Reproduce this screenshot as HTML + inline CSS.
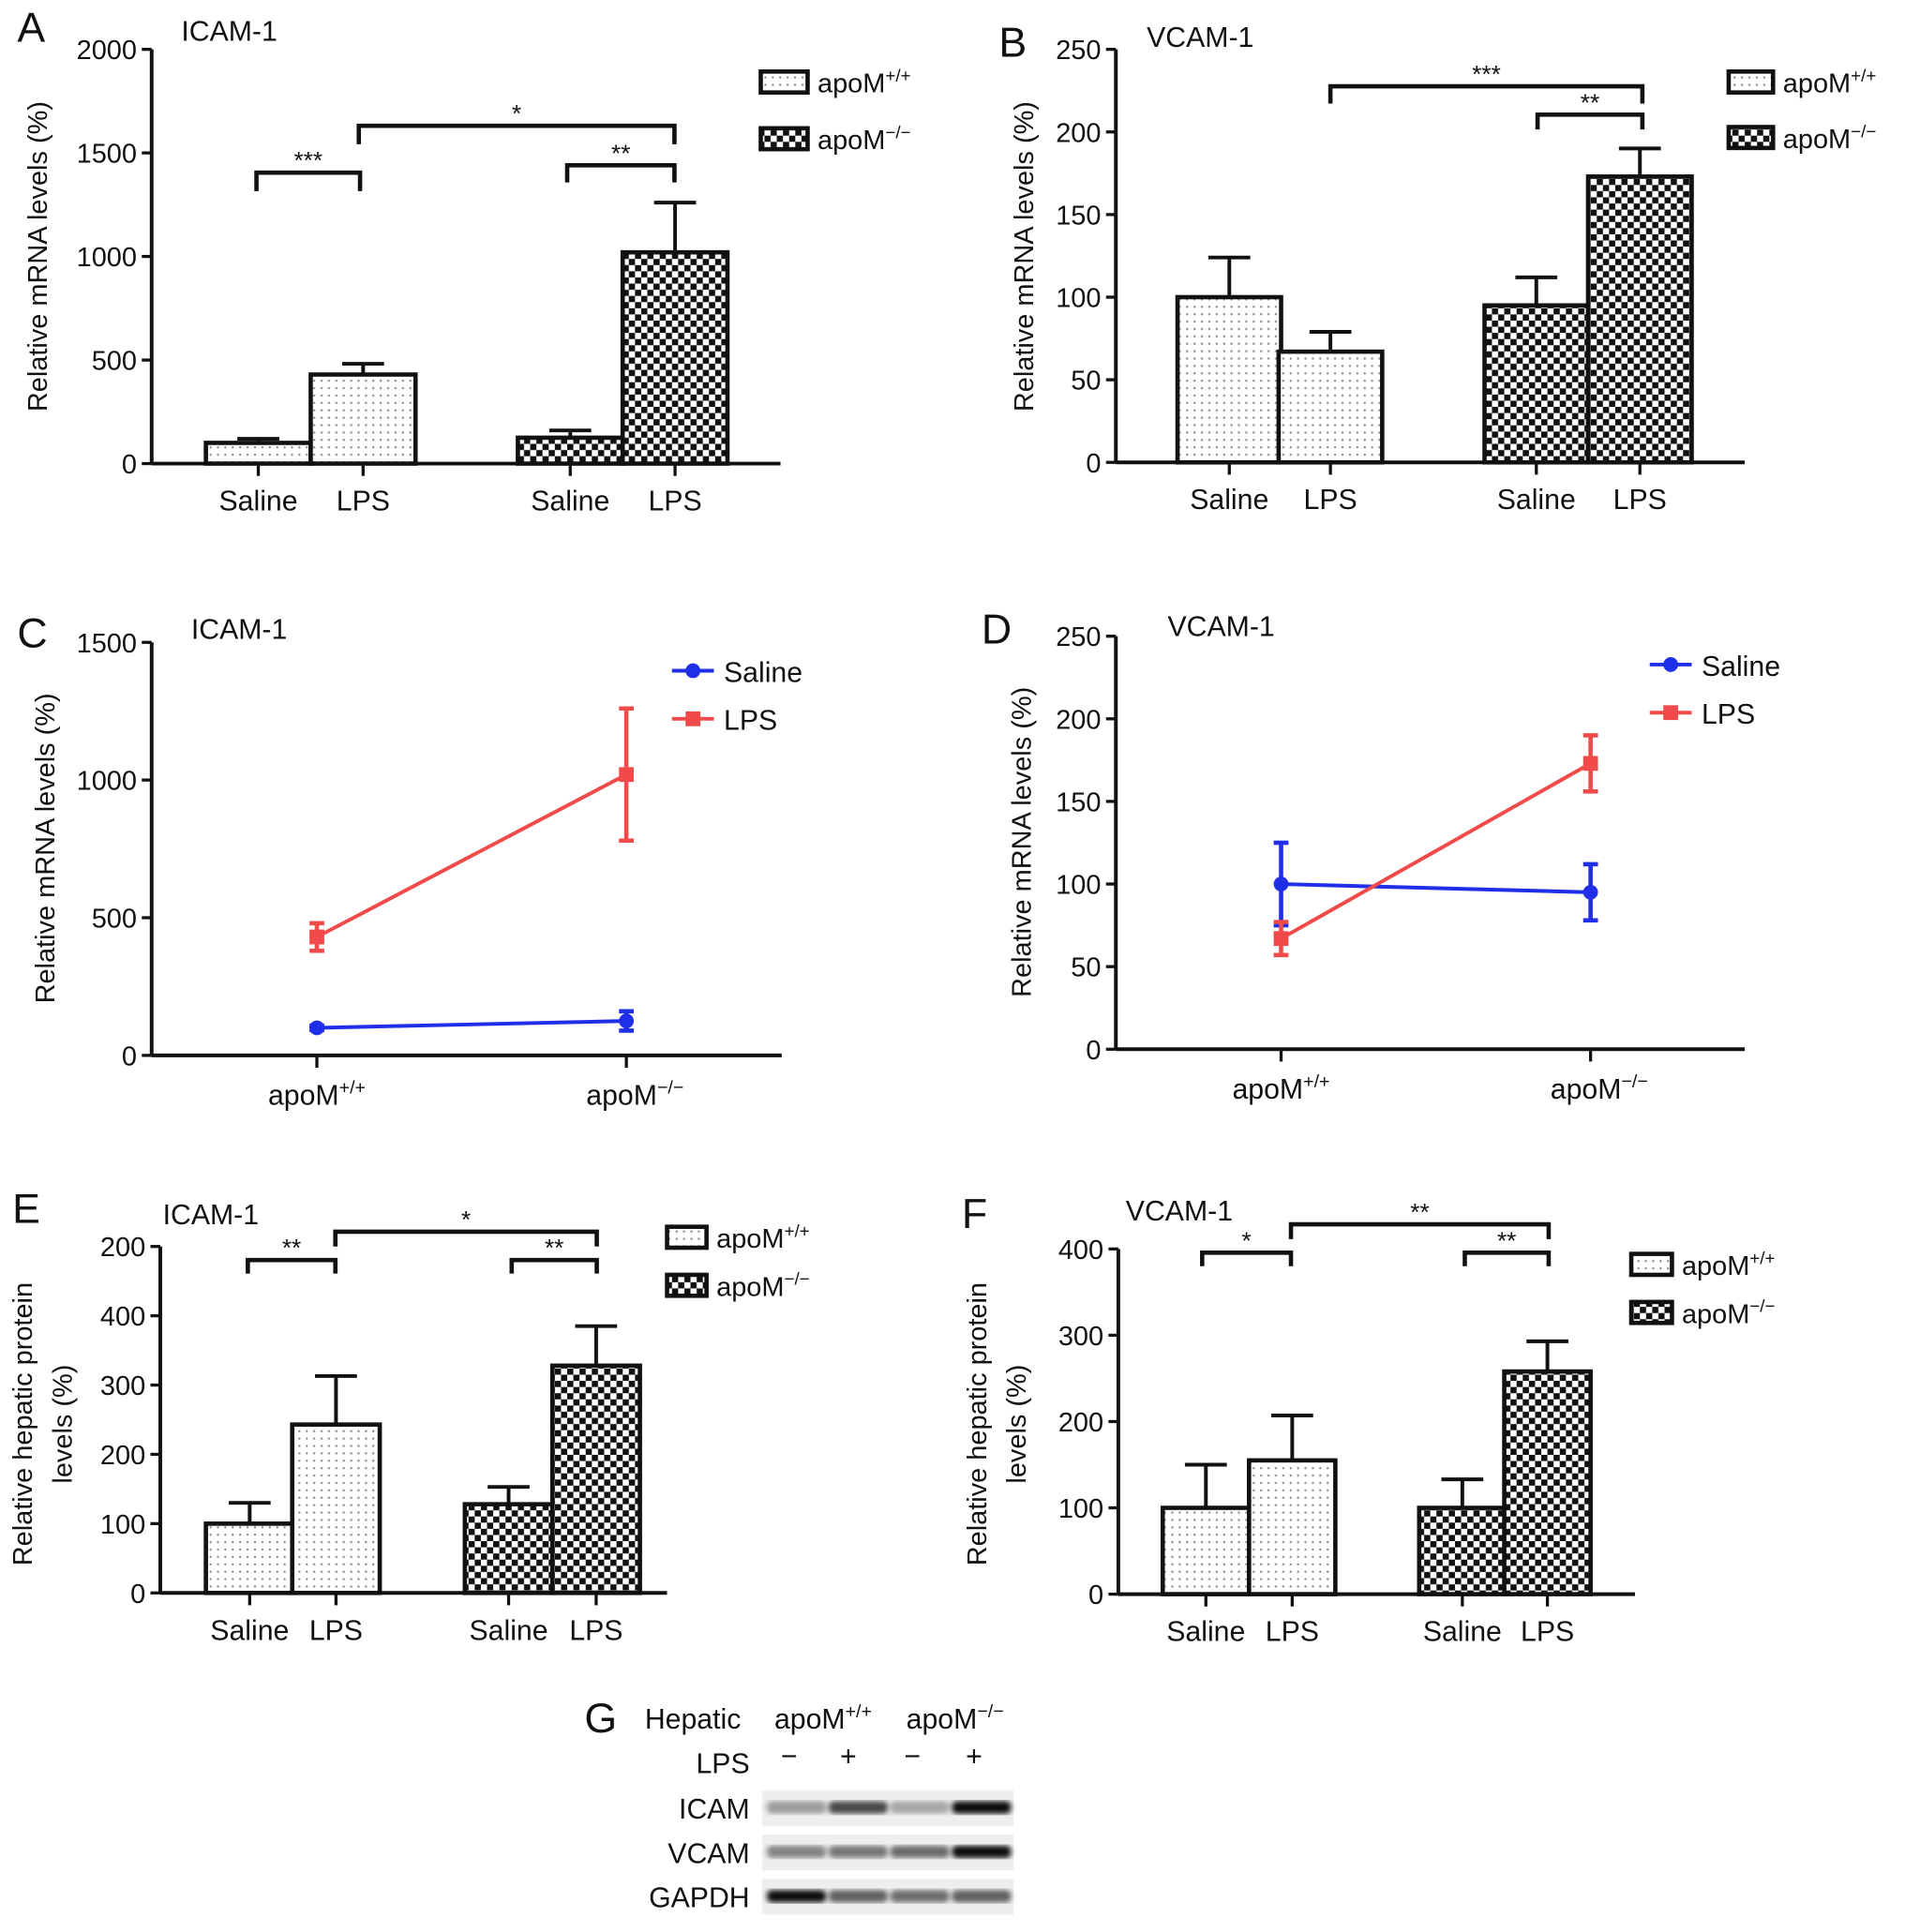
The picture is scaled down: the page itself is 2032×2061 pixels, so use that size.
<!DOCTYPE html>
<html><head><meta charset="utf-8">
<style>
html,body{margin:0;padding:0;background:#fff;}
svg{display:block;}
text{font-family:"Liberation Sans",Arial,sans-serif;fill:#111;}
</style></head>
<body>
<svg id="fig" xmlns="http://www.w3.org/2000/svg" width="2032" height="2061" viewBox="0 0 1545 1567">
<defs>
<pattern id="dots" width="6" height="6" patternUnits="userSpaceOnUse"><rect width="6" height="6" fill="#fff"/><rect x="2" y="2" width="1.6" height="1.6" fill="#888"/></pattern>
<pattern id="check" width="10" height="10" patternUnits="userSpaceOnUse"><rect width="10" height="10" fill="#fff"/><rect width="5" height="5" fill="#111"/><rect x="5" y="5" width="5" height="5" fill="#111"/></pattern>
<filter id="blur"><feGaussianBlur stdDeviation="2.2"/></filter>
</defs>
</svg>
<script>
// ---- data ----
const barCategories = ["Saline","LPS","Saline","LPS"];
const aValues = [100, 430, 125, 1020];
const aErrors = [20, 52, 35, 240];
const bValues = [100, 67, 95, 173];
const bErrors = [24, 12, 17, 17];
const eValues = [100, 243, 128, 328];
const eErrors = [30, 70, 25, 57];
const fValues = [100, 155, 100, 258];
const fErrors = [50, 52, 33, 35];
const lineCategories = ["apoM+/+","apoM−/−"];
const cSaline = [100, 125]; const cSalineErr = [8, 35];
const cLPS = [430, 1020]; const cLPSErr = [50, 240];
const dSaline = [100, 95]; const dSalineErr = [25, 17];
const dLPS = [67, 173]; const dLPSErr = [10, 17];
const aTicks = [0,500,1000,1500,2000];
const bTicks = [0,50,100,150,200,250];
const cTicks = [0,500,1000,1500];
const eTicks = [0,100,200,300,400,500];
const eTickLabels = ["0","100","200","300","400","200"];
const fTicks = [0,100,200,300,400];

const svg = document.getElementById('fig');
const NS = 'http://www.w3.org/2000/svg';
function el(tag, attrs, parent){const e=document.createElementNS(NS,tag);for(const k in attrs)e.setAttribute(k,attrs[k]);(parent||svg).appendChild(e);return e;}
function txt(s, x, y, size, anchor, parent){const t=el('text',{x:x,y:y,'font-size':size,'text-anchor':anchor||'start'},parent);t.textContent=s;return t;}
function apo(x,y,size,sup,anchor,parent){const t=el('text',{x:x,y:y,'font-size':size,'text-anchor':anchor||'start'},parent);t.appendChild(document.createTextNode('apoM'));const s=document.createElementNS(NS,'tspan');s.setAttribute('dy',-size*0.4);s.setAttribute('font-size',size*0.65);s.textContent=sup;t.appendChild(s);return t;}

function yAxis(g, x0, x1, y0, y1, vmax, ticks, labels){
  const sy = v => y0 - (v/vmax)*(y0-y1);
  el('line',{x1:x0,y1:y0,x2:x0,y2:y1,stroke:'#111','stroke-width':3},g);
  el('line',{x1:x0,y1:y0,x2:x1,y2:y0,stroke:'#111','stroke-width':3},g);
  ticks.forEach((t,i)=>{el('line',{x1:x0-8,y1:sy(t),x2:x0,y2:sy(t),stroke:'#111','stroke-width':2.5},g);
    txt(labels?labels[i]:String(t), x0-12, sy(t)+8, 22,'end',g);});
  return sy;
}
function yTitle(g, x, y, lines){lines.forEach((l,i)=>{const t=txt(l,x+i*32,y,22,'middle',g);t.setAttribute('transform',`rotate(-90 ${x+i*32} ${y})`);});}

function barPanel(name, cfg, values, errors){
  const g=el('g',{});
  
  
  const sy=yAxis(g,cfg.x0,cfg.x1,cfg.y0,cfg.y1,cfg.vmax,cfg.ticks,cfg.tickLabels);
  values.forEach((v,i)=>{
    const bx=cfg.bars[i], w=cfg.bw, top=sy(v), et=sy(v+errors[i]);
    const cx=bx+w/2;
    const e=el('line',{x1:cx,y1:top,x2:cx,y2:et,stroke:'#111','stroke-width':3},g);
    
    
    el('line',{x1:cx-17,y1:et,x2:cx+17,y2:et,stroke:'#111','stroke-width':3},g);
    const r=el('rect',{x:bx,y:top,width:w,height:cfg.y0-top,fill:i<2?'url(#dots)':'url(#check)',stroke:'#111','stroke-width':3.5},g);
    
    
    el('line',{x1:cx,y1:cfg.y0,x2:cx,y2:cfg.y0+10,stroke:'#111','stroke-width':2.5},g);
    txt(barCategories[i],cx,cfg.y0+38,23,'middle',g);
  });
  cfg.brackets.forEach(b=>{
    el('polyline',{points:`${b[0]},${b[3]} ${b[0]},${b[2]} ${b[1]},${b[2]} ${b[1]},${b[3]}`,fill:'none',stroke:'#111','stroke-width':3.5},g);
    txt(b[4],(b[0]+b[1])/2,b[2]-3,20,'middle',g);
  });
  txt(cfg.title,cfg.tx,cfg.ty,23,'start',g);
  txt(cfg.letter,cfg.lx,cfg.ly,34,'start',g);
  yTitle(g,cfg.ytx,cfg.yty,cfg.ytitle);
  const lg=el('g',{},g);
  
  
  [['url(#dots)','+/+'],['url(#check)','−/−']].forEach((p,i)=>{
    const y=cfg.legY+i*cfg.legDy;
    el('rect',{x:cfg.legX,y:y,width:cfg.legW,height:17,fill:p[0],stroke:'#111','stroke-width':3.5},lg);
    apo(cfg.legX+cfg.legW+8,y+17,22,p[1],'start',lg);
  });
}

barPanel('panel-a',{x0:123,x1:633,y0:376,y1:40,vmax:2000,ticks:aTicks,bars:[167,252,420,505],bw:85,
  brackets:[[208,292,140,155,'***'],[460,547,134,148,'**'],[291,547,102,117,'*']],
  title:'ICAM-1',tx:147,ty:33,letter:'A',lx:14,ly:34,ytx:38,yty:208,ytitle:['Relative mRNA levels (%)'],legX:617,legY:58,legDy:46,legW:38},aValues,aErrors);
barPanel('panel-b',{x0:905,x1:1415,y0:375,y1:40,vmax:250,ticks:bTicks,bars:[955,1037,1204,1288],bw:84,
  brackets:[[1079,1332,70,84,'***'],[1247,1332,93,105,'**']],
  title:'VCAM-1',tx:930,ty:38,letter:'B',lx:810,ly:46,ytx:838,yty:208,ytitle:['Relative mRNA levels (%)'],legX:1402,legY:58,legDy:45,legW:36},bValues,bErrors);
barPanel('panel-e',{x0:130,x1:541,y0:1292,y1:1011,vmax:500,ticks:eTicks,tickLabels:eTickLabels,bars:[167,237,377,448],bw:71,
  brackets:[[201,272,1022,1033,'**'],[415,484,1022,1033,'**'],[272,484,999,1011,'*']],
  title:'ICAM-1',tx:132,ty:993,letter:'E',lx:10,ly:992,ytx:26,yty:1155,ytitle:['Relative hepatic protein','levels (%)'],legX:541,legY:995,legDy:39,legW:32},eValues,eErrors);
barPanel('panel-f',{x0:907,x1:1326,y0:1293,y1:1013,vmax:400,ticks:fTicks,bars:[943,1013,1151,1220],bw:70,
  brackets:[[975,1047,1016,1027,'*'],[1188,1256,1016,1027,'**'],[1047,1256,993,1005,'**']],
  title:'VCAM-1',tx:913,ty:990,letter:'F',lx:780,ly:996,ytx:800,yty:1155,ytitle:['Relative hepatic protein','levels (%)'],legX:1323,legY:1017,legDy:39,legW:33},fValues,fErrors);

function linePanel(name,cfg,sal,salE,lps,lpsE){
  const g=el('g',{});
  
  
  const sy=yAxis(g,cfg.x0,cfg.x1,cfg.y0,cfg.y1,cfg.vmax,cfg.ticks);
  const xs=cfg.xs;
  lineCategories.forEach((c,i)=>{el('line',{x1:xs[i],y1:cfg.y0,x2:xs[i],y2:cfg.y0+10,stroke:'#111','stroke-width':2.5},g);
    apo(xs[i]+(i?7:0),cfg.y0+40,23,i?'−/−':'+/+','middle',g);});
  [[sal,salE,'#1f2fe8','saline','c'],[lps,lpsE,'#f04a4a','lps','s']].forEach(s=>{
    const ln=el('polyline',{points:s[0].map((v,i)=>xs[i]+','+sy(v)).join(' '),fill:'none',stroke:s[2],'stroke-width':3},g);
    
    
    s[0].forEach((v,i)=>{
      const a=sy(v+s[1][i]),b=sy(v-s[1][i]);
      el('line',{x1:xs[i],y1:a,x2:xs[i],y2:b,stroke:s[2],'stroke-width':3.5},g);
      el('line',{x1:xs[i]-6,y1:a,x2:xs[i]+6,y2:a,stroke:s[2],'stroke-width':3.5},g);
      el('line',{x1:xs[i]-6,y1:b,x2:xs[i]+6,y2:b,stroke:s[2],'stroke-width':3.5},g);
      const m=s[4]==='c'?el('circle',{cx:xs[i],cy:sy(v),r:6,fill:s[2]},g):el('rect',{x:xs[i]-6,y:sy(v)-6,width:12,height:12,fill:s[2]},g);
      
      
    });
  });
  txt(cfg.title,cfg.tx,cfg.ty,23,'start',g);
  txt(cfg.letter,cfg.lx,cfg.ly,34,'start',g);
  yTitle(g,cfg.ytx,cfg.yty,['Relative mRNA levels (%)']);
  const lg=el('g',{},g);
  
  
  el('line',{x1:cfg.legX,y1:cfg.legY,x2:cfg.legX+34,y2:cfg.legY,stroke:'#1f2fe8','stroke-width':3},lg);
  el('circle',{cx:cfg.legX+17,cy:cfg.legY,r:6,fill:'#1f2fe8'},lg);
  txt('Saline',cfg.legX+42,cfg.legY+9,23,'start',lg);
  el('line',{x1:cfg.legX,y1:cfg.legY+39,x2:cfg.legX+34,y2:cfg.legY+39,stroke:'#f04a4a','stroke-width':3},lg);
  el('rect',{x:cfg.legX+11,y:cfg.legY+33,width:12,height:12,fill:'#f04a4a'},lg);
  txt('LPS',cfg.legX+42,cfg.legY+48,23,'start',lg);
}
linePanel('panel-c',{x0:123,x1:634,y0:856,y1:521,vmax:1500,ticks:cTicks,xs:[257,508],title:'ICAM-1',tx:155,ty:518,letter:'C',lx:14,ly:525,ytx:44,yty:688,legX:545,legY:544},cSaline,cSalineErr,cLPS,cLPSErr);
linePanel('panel-d',{x0:905,x1:1415,y0:851,y1:516,vmax:250,ticks:bTicks,xs:[1039,1290],title:'VCAM-1',tx:947,ty:516,letter:'D',lx:796,ly:522,ytx:836,yty:683,legX:1338,legY:539},dSaline,dSalineErr,dLPS,dLPSErr);

// panel G: western blot
(function(){
  const g=el('g',{});
  
  
  txt('G',474,1405,34,'start',g);
  txt('Hepatic',523,1402,23,'start',g);
  apo(628,1402,23,'+/+','start',g);
  apo(735,1402,23,'−/−','start',g);
  txt('LPS',608,1438,23,'end',g);
  ['−','+','−','+'].forEach((s,i)=>txt(s,[640,688,740,790][i],1432,23,'middle',g));
  const rows=[['ICAM',1466,[0.35,0.7,0.3,0.95]],['VCAM',1502,[0.45,0.5,0.55,0.95]],['GAPDH',1538,[0.95,0.6,0.55,0.6]]];
  rows.forEach(r=>{
    txt(r[0],608,r[1]+9,23,'end',g);
    el('rect',{x:618,y:r[1]-14,width:204,height:29,fill:'#eee'},g);
    r[2].forEach((d,i)=>{
      const b=el('rect',{x:622+i*50,y:r[1]-5,width:48,height:10,rx:4,fill:'#000','fill-opacity':d,filter:'url(#blur)'},g);
      
      
    });
  });
})();
</script>
</body></html>
